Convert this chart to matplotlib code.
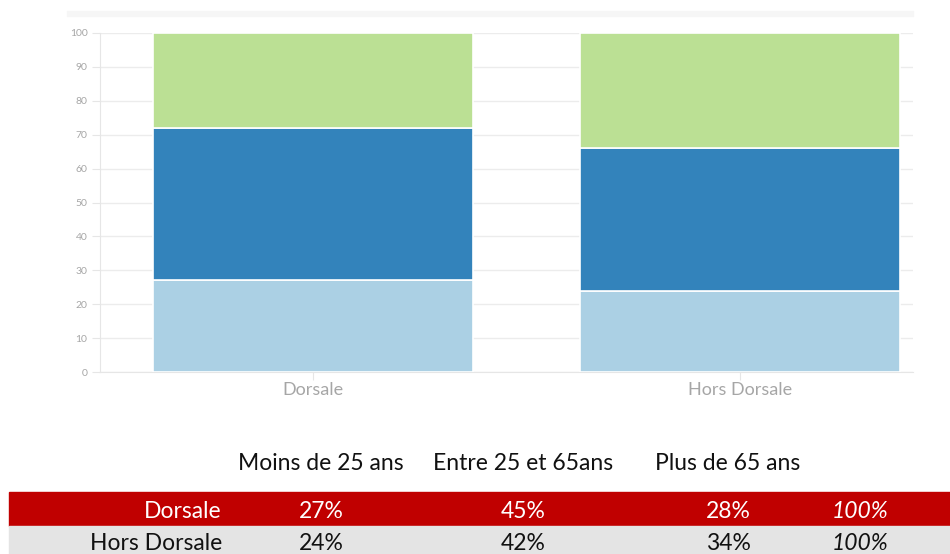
import matplotlib
matplotlib.use("Agg")
import matplotlib.pyplot as plt
from matplotlib.patches import Rectangle

plt.rcParams['font.family'] = ['Lato', 'DejaVu Sans']

# Data
categories = ["Dorsale", "Hors Dorsale"]
age_groups = ["Moins de 25 ans", "Entre 25 et 65ans", "Plus de 65 ans"]
moins_25 = [27, 24]
entre_25_65 = [45, 42]
plus_65 = [28, 34]
totals = ["100%", "100%"]
y_ticks = [0, 10, 20, 30, 40, 50, 60, 70, 80, 90, 100]

series = [moins_25, entre_25_65, plus_65]
colors = ["#abd0e4", "#3383bb", "#bbe094"]

W, H = 950, 554
fig = plt.figure(figsize=(W / 100, H / 100), dpi=100)

# Faint band across the top
fig.patches.append(Rectangle((67 / W, 1 - 16 / H), (913 - 67) / W, 5 / H,
                             transform=fig.transFigure, color="#f6f6f6", zorder=0))

ax = fig.add_axes([100 / W, 1 - 372 / H, (913 - 100) / W, (372 - 33) / H])
x = list(range(len(categories)))
bottoms = [0] * len(categories)
for vals, col in zip(series, colors):
    ax.bar(x, vals, width=0.75, bottom=bottoms, color=col,
           edgecolor="white", linewidth=1.2, zorder=3)
    bottoms = [b + v for b, v in zip(bottoms, vals)]

ax.set_xlim(-0.499, 1.405)
ax.set_ylim(0, 100)
ax.set_yticks(y_ticks)
ax.set_xticks(x)
ax.set_xticklabels(categories)
ax.grid(axis="y", color="#ececec", linewidth=1, zorder=0)
for s in ["top", "right"]:
    ax.spines[s].set_visible(False)
ax.spines["left"].set_color("#e6e6e6")
ax.spines["bottom"].set_color("#e6e6e6")
ax.tick_params(axis="y", colors="#e6e6e6", labelcolor="#a6a6a6", labelsize=7.5,
               length=6, pad=3)
ax.tick_params(axis="x", colors="#e6e6e6", labelcolor="#a6a6a6", labelsize=13,
               length=6, pad=1)

# Summary table below the chart
tfont = dict(family=["Lato", "DejaVu Sans"], fontsize=16.5)
col_x = [321, 523, 728]
for cx, label in zip(col_x, age_groups):
    fig.text(cx / W, 1 - 463 / H, label, ha="center", va="center",
             color="#111111", **tfont)

rows = [
    (categories[0], moins_25[0], entre_25_65[0], plus_65[0], totals[0], 492, 526, 20, "#c00000", "white"),
    (categories[1], moins_25[1], entre_25_65[1], plus_65[1], totals[1], 526, 560, 18, "#e4e4e4", "#111111"),
]
for name, a, b, c, tot, y0, y1, dy, bg, fg in rows:
    fig.patches.append(Rectangle((9 / W, 1 - y1 / H), (W - 9) / W, (y1 - y0) / H,
                                 transform=fig.transFigure, color=bg, zorder=0))
    yc = 1 - (y0 + dy) / H
    fig.text(222 / W, yc, name, ha="right", va="center", color=fg, **tfont)
    for cx, v in zip(col_x, [a, b, c]):
        fig.text(cx / W, yc, f"{v}%", ha="center", va="center", color=fg, **tfont)
    fig.text(860 / W, yc, tot, ha="center", va="center",
             color=fg, style="italic", **tfont)

fig.savefig("out.png", dpi=100)
